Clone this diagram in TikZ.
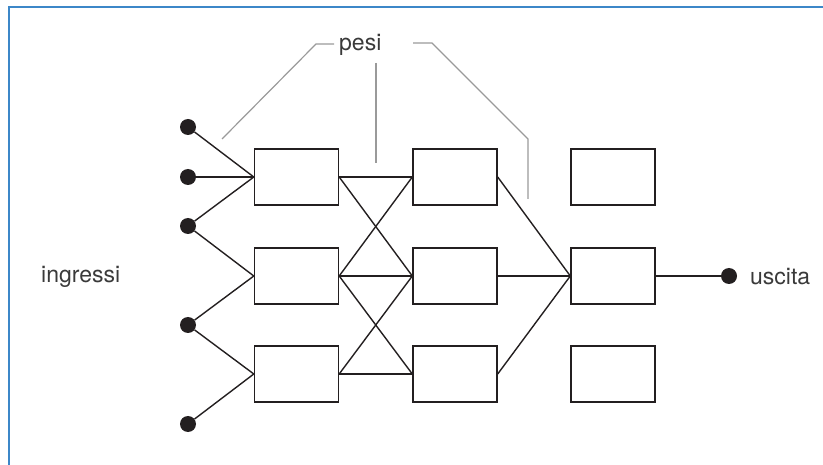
\documentclass[tikz,border=0pt]{standalone}
\usepackage{fontspec}
\setmainfont{TeX Gyre Heros}
\definecolor{boxc}{HTML}{231F20}
\definecolor{leadc}{HTML}{9A9A9A}
\definecolor{txtc}{HTML}{3A3A3A}
\definecolor{framec}{HTML}{3C87C8}
\begin{document}
\begin{tikzpicture}[x=1pt,y=-1pt,
  box/.style={draw=boxc, line width=1.4pt, minimum width=84pt, minimum height=56pt, inner sep=0pt},
  dot/.style={circle, fill=boxc, minimum size=16pt, inner sep=0pt},
  wire/.style={draw=boxc, line width=1.4pt},
  lead/.style={draw=leadc, line width=1.2pt},
  frameline/.style={draw=framec, line width=1.5pt},
  lbl/.style={font=\fontsize{23}{26}\selectfont, text=txtc, inner sep=0pt}]
\useasboundingbox (0,0) rectangle (823,465);
\draw[frameline] (9,465) -- (9,7) -- (823,7);

% boxes
\node[box] (a1) at (296.5,177) {};
\node[box] (a2) at (296.5,276) {};
\node[box] (a3) at (296.5,374) {};
\node[box] (b1) at (455,177) {};
\node[box] (b2) at (455,276) {};
\node[box] (b3) at (455,374) {};
\node[box] (c1) at (613,177) {};
\node[box] (c2) at (613,276) {};
\node[box] (c3) at (613,374) {};

% input / output dots
\node[dot] (i1) at (188,127) {};
\node[dot] (i2) at (188,177) {};
\node[dot] (i3) at (188,226) {};
\node[dot] (i4) at (188,325) {};
\node[dot] (i5) at (188,424) {};
\node[dot] (o) at (729,276) {};

% labels
\node[lbl, anchor=base west] (tin) at (41,283) {ingressi};
\node[lbl, anchor=base west] (tout) at (750,285) {uscita};
\node[lbl, anchor=base west] (tp) at (339,50.5) {pesi};

% wires inputs -> layer 1
\draw[wire] (i1) -- (a1.west);
\draw[wire] (i2) -- (a1.west);
\draw[wire] (i3) -- (a1.west);
\draw[wire] (i3) -- (a2.west);
\draw[wire] (i4) -- (a2.west);
\draw[wire] (i4) -- (a3.west);
\draw[wire] (i5) -- (a3.west);

% layer 1 -> layer 2
\draw[wire] (a1.east) -- (b1.west);
\draw[wire] (a1.east) -- (b2.west);
\draw[wire] (a2.east) -- (b1.west);
\draw[wire] (a2.east) -- (b2.west);
\draw[wire] (a2.east) -- (b3.west);
\draw[wire] (a3.east) -- (b2.west);
\draw[wire] (a3.east) -- (b3.west);

% layer 2 -> output node
\draw[wire] (b1.east) -- (c2.west);
\draw[wire] (b2.east) -- (c2.west);
\draw[wire] (b3.east) -- (c2.west);
\draw[wire] (c2.east) -- (o);

% weight leaders
\coordinate (l1) at (222,139);
\coordinate (l2) at (316,44);
\coordinate (l3) at (334,44);
\coordinate (m1) at (376,63);
\coordinate (m2) at (376,163);
\coordinate (r1) at (413,43);
\coordinate (r2) at (432,43);
\coordinate (r3) at (528,139);
\coordinate (r4) at (528,199);
\draw[lead] (l1) -- (l2) -- (l3);
\draw[lead] (m1) -- (m2);
\draw[lead] (r1) -- (r2) -- (r3) -- (r4);
\end{tikzpicture}
\end{document}
